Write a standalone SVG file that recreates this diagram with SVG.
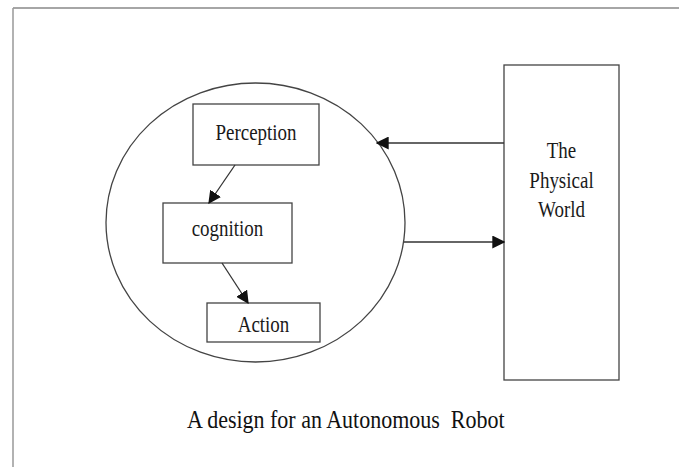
<svg xmlns="http://www.w3.org/2000/svg" width="679" height="467" viewBox="0 0 679 467">
<style>
.box{fill:#fff;stroke:#444;stroke-width:1.3}
.ln{stroke:#333;stroke-width:1.3;fill:none}
.t{font-family:"Liberation Serif",serif;font-size:19px;fill:#1a1a1a;text-anchor:middle}
.cap{font-family:"Liberation Serif",serif;font-size:22px;fill:#111;white-space:pre}
</style>
<defs>
<marker id="ah" viewBox="0 0 10 10" refX="9" refY="5" markerWidth="13" markerHeight="13" markerUnits="userSpaceOnUse" orient="auto">
<path d="M0,0 L10,5 L0,10 z" fill="#111"/>
</marker>
</defs>
<rect width="679" height="467" fill="#fff"/>
<g id="frame">
<line x1="13" y1="8" x2="679" y2="8" stroke="#888" stroke-width="1.5"/>
<line x1="13" y1="8" x2="13" y2="467" stroke="#999" stroke-width="1.5"/>
</g>
<g id="robot">
<ellipse cx="255.5" cy="222.5" rx="149.5" ry="139.5" class="box"/>
</g>
<g id="perception">
<rect x="193" y="104" width="126" height="61" class="box"/>
<text class="t" transform="translate(256,140) scale(1,1.2)">Perception</text>
</g>
<g id="cognition">
<rect x="163" y="203" width="129" height="60" class="box"/>
<text class="t" transform="translate(227.5,236) scale(1,1.2)">cognition</text>
</g>
<g id="action">
<rect x="207" y="303" width="113" height="39" class="box"/>
<text class="t" transform="translate(263.5,332) scale(1,1.2)">Action</text>
</g>
<g id="world">
<rect x="504" y="65" width="115" height="315" class="box"/>
<text class="t" transform="translate(561.5,158) scale(1,1.2)">The</text>
<text class="t" transform="translate(561.5,188) scale(1,1.2)">Physical</text>
<text class="t" transform="translate(561.5,217) scale(1,1.2)">World</text>
</g>
<g id="connectors">
<line x1="235" y1="165" x2="209" y2="203" class="ln" marker-end="url(#ah)"/>
<line x1="222" y1="263" x2="248" y2="303" class="ln" marker-end="url(#ah)"/>
<line x1="504" y1="143" x2="377" y2="143" class="ln" marker-end="url(#ah)"/>
<line x1="404" y1="242" x2="504" y2="242" class="ln" marker-end="url(#ah)"/>
</g>
<text class="cap" xml:space="preserve" transform="translate(187,428) scale(1,1.1)">A design for an Autonomous  Robot</text>
</svg>
